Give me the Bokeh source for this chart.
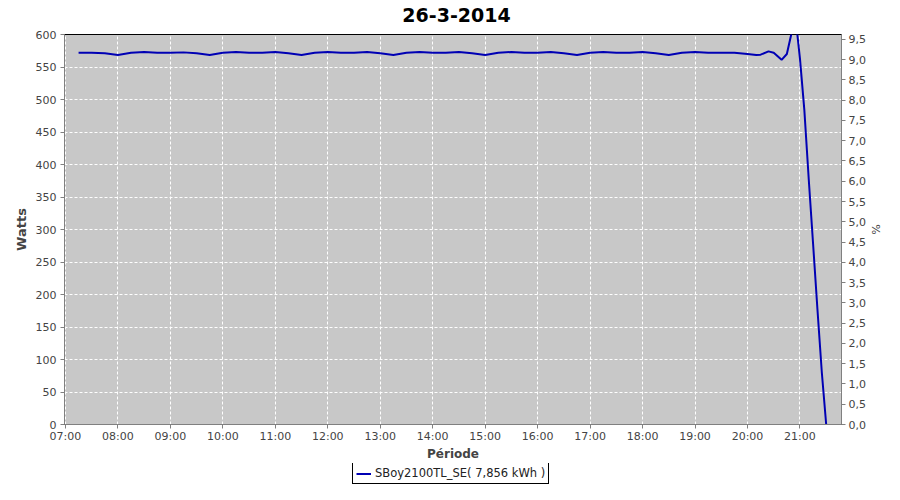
import pandas as pd
from bokeh.plotting import figure
from bokeh.layouts import column
from bokeh.models import (Range1d, LinearAxis, FixedTicker, CustomJSTickFormatter,
                          Legend, LegendItem, DatetimeTickFormatter, ColumnDataSource, Label)
from bokeh.embed import file_html
from bokeh.resources import INLINE

DAY = "2014-03-26"
TITLE = "26-3-2014"
SERIES_NAME = "SBoy2100TL_SE( 7,856 kWh )"

times = ["07:15", "07:30", "07:45", "08:00", "08:15", "08:30", "08:45", "09:00", "09:15", "09:30",
         "09:45", "10:00", "10:15", "10:30", "10:45", "11:00", "11:15", "11:30", "11:45", "12:00",
         "12:15", "12:30", "12:45", "13:00", "13:15", "13:30", "13:45", "14:00", "14:15", "14:30",
         "14:45", "15:00", "15:15", "15:30", "15:45", "16:00", "16:15", "16:30", "16:45", "17:00",
         "17:15", "17:30", "17:45", "18:00", "18:15", "18:30", "18:45", "19:00", "19:15", "19:30",
         "19:45", "20:00", "20:10", "20:15", "20:24", "20:30", "20:39", "20:45", "20:50", "20:54",
         "20:57", "21:00", "21:05", "21:10", "21:15", "21:20", "21:25", "21:30"]
watts = [572, 572, 571, 568.5, 572, 573, 572, 572, 572.5, 571,
         568.5, 572, 573, 572, 572, 573, 571, 568.5, 572, 573,
         572, 572, 573, 571, 568.5, 572, 573, 572, 572, 573,
         571, 568.5, 572, 573, 572, 572, 573, 571, 568.5, 572,
         573, 572, 572, 573, 571, 568.5, 572, 573, 572, 572,
         572, 570, 568.5, 569, 574, 572, 561, 570, 600, 615,
         600, 563, 484, 378, 278, 177, 80, 0]

hour_ticks = ["07:00", "08:00", "09:00", "10:00", "11:00", "12:00", "13:00", "14:00",
              "15:00", "16:00", "17:00", "18:00", "19:00", "20:00", "21:00"]
watt_ticks = [0, 50, 100, 150, 200, 250, 300, 350, 400, 450, 500, 550, 600]
pct_ticks = [0.0, 0.5, 1.0, 1.5, 2.0, 2.5, 3.0, 3.5, 4.0, 4.5, 5.0, 5.5, 6.0, 6.5, 7.0,
             7.5, 8.0, 8.5, 9.0, 9.5]


def ts(t):
    return pd.Timestamp(DAY + " " + t)


def ms(t):
    return ts(t).value / 1e6


src = ColumnDataSource(data=dict(x=[ts(t) for t in times], y=watts))

GRAY = "#808080"
TXT = "#444444"
FONT = "DejaVu Sans"
LINE_COLOR = "#0000b4"
W = 884


def strip(h):
    f = figure(width=W, height=h, output_backend="svg", toolbar_location=None,
               x_range=Range1d(0, 1), y_range=Range1d(0, 1),
               x_axis_location=None, y_axis_location=None,
               min_border_left=0, min_border_right=0, min_border_top=0, min_border_bottom=0)
    f.outline_line_color = None
    f.grid.visible = False
    f.border_fill_color = "white"
    f.background_fill_color = "white"
    return f


# title strip
tf = strip(26)
tf.add_layout(Label(x=392, y=12, x_units="screen", y_units="screen", text=TITLE,
                    text_align="center", text_baseline="alphabetic",
                    text_font=FONT, text_font_size="19px", text_font_style="bold",
                    text_color="black"))

p = figure(width=W, height=437, x_axis_type="datetime", output_backend="svg",
           toolbar_location=None,
           x_range=Range1d(ms("06:58:54"), ms("21:47:30")),
           y_range=Range1d(0, 600),
           min_border_left=64, min_border_right=41, min_border_top=8, min_border_bottom=37)
p.extra_y_ranges = {"pct": Range1d(0, 9.62)}

p.background_fill_color = "#c8c8c8"
p.border_fill_color = "white"
p.outline_line_color = "black"
p.outline_line_width = 1

r = p.line("x", "y", source=src, line_color=LINE_COLOR, line_width=2)

p.xaxis.ticker = FixedTicker(ticks=[ms(h) for h in hour_ticks])
p.xaxis.formatter = DatetimeTickFormatter(hours="%H:%M", hourmin="%H:%M", minutes="%H:%M",
                                          days="%H:%M")
p.yaxis.ticker = FixedTicker(ticks=watt_ticks)
p.xaxis.axis_label = "Période"
p.yaxis.axis_label = "Watts"

pax = LinearAxis(y_range_name="pct", axis_label="%",
                 ticker=FixedTicker(ticks=pct_ticks),
                 formatter=CustomJSTickFormatter(code="return tick.toFixed(1).replace('.', ',');"))
p.add_layout(pax, "right")

for ax in [p.xaxis[0], p.yaxis[0], pax]:
    ax.axis_line_color = GRAY
    ax.major_tick_line_color = GRAY
    ax.major_tick_out = 4
    ax.major_tick_in = 0
    ax.minor_tick_line_color = None
    ax.major_label_text_font = FONT
    ax.major_label_text_font_size = "11px"
    ax.major_label_text_color = TXT
    ax.major_label_standoff = 4
    ax.axis_label_text_font = FONT
    ax.axis_label_text_font_size = "13px"
    ax.axis_label_text_font_style = "bold"
    ax.axis_label_text_color = TXT
    ax.axis_label_standoff = 4
p.xaxis[0].major_label_standoff = 1
p.xaxis[0].axis_label_standoff = 1
p.xaxis[0].axis_label_text_font_size = "12px"
pax.major_label_standoff = 3
pax.axis_label_standoff = 0
pax.axis_label_text_font_style = "normal"
pax.axis_label_text_font_size = "11px"

p.xgrid.ticker = p.xaxis[0].ticker
p.ygrid.ticker = p.yaxis[0].ticker
for g in [p.xgrid[0], p.ygrid[0]]:
    g.grid_line_color = "white"
    g.grid_line_dash = "3 2"
    g.grid_line_width = 1

# legend strip below the chart (its line uses the same data, out of this strip's view)
lg = strip(21)
lr = lg.line("x", "y", source=src, line_color=LINE_COLOR, line_width=2)
legend = Legend(items=[LegendItem(label=SERIES_NAME, renderers=[lr])],
                location=(288, 0), orientation="horizontal",
                border_line_color="black", border_line_width=1, border_line_alpha=1,
                background_fill_color="white", background_fill_alpha=1,
                label_text_font=FONT, label_text_font_size="11.5px", label_text_color="#222222",
                glyph_width=15, glyph_height=13, label_standoff=4, label_height=13,
                padding=3, margin=0, spacing=0)
lg.add_layout(legend)

layout = column(tf, p, lg, spacing=0)
open("out.html", "w").write(file_html(layout, INLINE))
